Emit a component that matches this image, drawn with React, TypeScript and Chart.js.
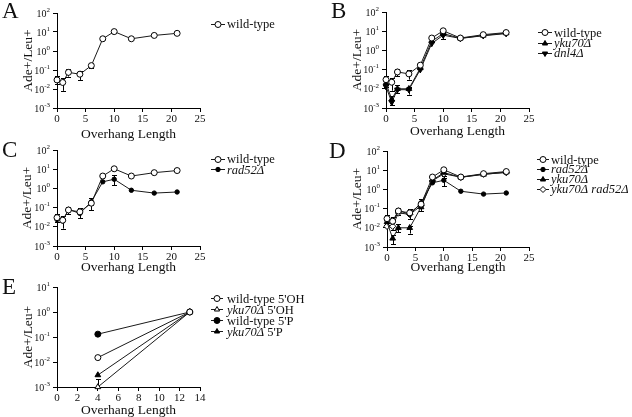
import React, { useEffect, useRef } from "react";
import { Chart, registerables } from "chart.js";
Chart.register(...registerables);

// ---------- data ----------
const overhangLengths = [0, 1, 2, 4, 6, 8, 10, 13, 17, 21];
const wildType = [0.03, 0.022, 0.075, 0.06, 0.17, 4.4, 10.5, 4.4, 6.6, 8.5];
const wildTypeErrLow = [0.018, 0.008, 0.045, 0.03, 0.13, null, null, null, null, null];
const wildTypeErrHigh = [0.048, 0.036, 0.11, 0.09, 0.22, null, null, null, null, null];
const yku70 = [0.02, 0.0028, 0.01, 0.01, 0.12, 3.0, 7.5, 4.3, 6.0, 8.0];
const yku70ErrLow = [0.012, 0.0014, 0.006, 0.005, null, null, 3.8, null, null, null];
const yku70ErrHigh = [0.03, 0.004, 0.015, 0.013, null, null, 9.0, null, null, null];
const dnl4 = [0.013, 0.002, 0.009, 0.009, 0.1, 2.3, 6.2, 4.2, 5.8, 7.5];
const rad52 = [0.024, 0.02, 0.08, 0.05, 0.2, 2.2, 3.0, 0.8, 0.57, 0.65];
const rad52ErrLow = [null, null, null, 0.028, 0.075, null, 1.5, null, null, null];
const rad52ErrHigh = [null, null, null, 0.07, 0.3, null, 5.0, null, null, null];
const yku70rad52 = [0.012, 0.012, 0.06, 0.05, 0.14, 2.8, 6.5, 4.3, 6.2, 7.5];

const panelELengths = [4, 13];
const wildType5OH = [0.015, 1];
const yku70_5OH = [0.001, 1];
const yku70_5OHErrLow = [0.001, null];
const yku70_5OHErrHigh = [0.002, null];
const wildType5P = [0.13, 1];
const yku70_5P = [0.003, 1];

const logTicksMain = [0.001, 0.01, 0.1, 1, 10, 100];
const logTicksE = [0.001, 0.01, 0.1, 1, 10];

// ---------- styling ----------
const FONT = '"Liberation Serif", "Times New Roman", serif';
const INK = "#111";
const LINE = "#1a1a1a";

type Marker = { style: "circle" | "triangle" | "rectRot"; r: number; fill: string; rot: number };
const openCircle: Marker = { style: "circle", r: 3, fill: "#fff", rot: 0 };
const filledCircle: Marker = { style: "circle", r: 3, fill: "#000", rot: 0 };
const smallDot: Marker = { style: "circle", r: 2.2, fill: "#000", rot: 0 };
const triUp: Marker = { style: "triangle", r: 3.3, fill: "#000", rot: 0 };
const triDown: Marker = { style: "triangle", r: 3.3, fill: "#000", rot: 180 };
const openTri: Marker = { style: "triangle", r: 3.3, fill: "#fff", rot: 0 };
const openDiamond: Marker = { style: "rectRot", r: 3.2, fill: "#fff", rot: 0 };

type Seg = { t: string; i?: boolean };

function series(parts: Seg[], xs: number[], ys: number[], m: Marker, lo?: (number | null)[], hi?: (number | null)[]) {
  return {
    label: parts.map((p) => p.t).join(""),
    legendParts: parts,
    marker: m,
    errLow: lo,
    errHigh: hi,
    data: xs.map((x, i) => ({ x, y: ys[i] })),
    borderColor: LINE,
    borderWidth: 1,
    pointStyle: m.style,
    pointRadius: m.r,
    pointRotation: m.rot,
    pointBackgroundColor: m.fill,
    pointBorderColor: "#000",
    pointBorderWidth: 1,
    tension: 0,
    clip: false,
    fill: false,
  };
}

function drawMarker(ctx: CanvasRenderingContext2D, m: Marker, x: number, y: number) {
  ctx.save();
  ctx.fillStyle = m.fill;
  ctx.strokeStyle = "#000";
  ctx.lineWidth = 1;
  ctx.beginPath();
  if (m.style === "circle") {
    ctx.arc(x, y, m.r, 0, Math.PI * 2);
  } else if (m.style === "triangle") {
    let rad = (m.rot * Math.PI) / 180;
    for (let k = 0; k < 3; k++) {
      const px = x + Math.sin(rad) * m.r;
      const py = y - Math.cos(rad) * m.r;
      if (k === 0) ctx.moveTo(px, py);
      else ctx.lineTo(px, py);
      rad += (2 * Math.PI) / 3;
    }
    ctx.closePath();
  } else {
    ctx.moveTo(x, y - m.r);
    ctx.lineTo(x + m.r, y);
    ctx.lineTo(x, y + m.r);
    ctx.lineTo(x - m.r, y);
    ctx.closePath();
  }
  ctx.fill();
  ctx.stroke();
  ctx.restore();
}

type PanelCfg = {
  letter: string;
  letterX: number;
  letterY: number;
  left: number;
  top: number;
  W: number;
  H: number;
  area: { l: number; r: number; t: number; b: number };
  xMax: number;
  xStep: number;
  yMin: number;
  yMax: number;
  yTicks: number[];
  yTitlePad: number;
  legend: { x: number; y: number; dy: number; len: number; tx: number };
  datasets: any[];
};

const panels: PanelCfg[] = [
  {
    letter: "A", letterX: 2, letterY: 18, left: 0, top: 0, W: 316, H: 143,
    area: { l: 57, r: 200, t: 13, b: 108 }, xMax: 25, xStep: 5, yMin: 0.001, yMax: 100, yTicks: logTicksMain,
    yTitlePad: 20, legend: { x: 211, y: 23.7, dy: 10.3, len: 14, tx: 227 },
    datasets: [series([{ t: "wild-type" }], overhangLengths, wildType, openCircle, wildTypeErrLow, wildTypeErrHigh)],
  },
  {
    letter: "B", letterX: 15, letterY: 18, left: 316, top: 0, W: 316, H: 140,
    area: { l: 70, r: 213, t: 12, b: 108 }, xMax: 25, xStep: 5, yMin: 0.001, yMax: 100, yTicks: logTicksMain,
    yTitlePad: 33.5, legend: { x: 222, y: 32.3, dy: 10.3, len: 14, tx: 238 },
    datasets: [
      series([{ t: "wild-type" }], overhangLengths, wildType, openCircle, wildTypeErrLow, wildTypeErrHigh),
      series([{ t: "yku70Δ", i: true }], overhangLengths, yku70, triUp, yku70ErrLow, yku70ErrHigh),
      series([{ t: "dnl4Δ", i: true }], overhangLengths, dnl4, triDown),
    ],
  },
  {
    letter: "C", letterX: 2, letterY: 17, left: 0, top: 140, W: 316, H: 136,
    area: { l: 57, r: 200, t: 10, b: 106 }, xMax: 25, xStep: 5, yMin: 0.001, yMax: 100, yTicks: logTicksMain,
    yTitlePad: 19, legend: { x: 211, y: 19, dy: 10.3, len: 14, tx: 227 },
    datasets: [
      series([{ t: "wild-type" }], overhangLengths, wildType, openCircle, wildTypeErrLow, wildTypeErrHigh),
      series([{ t: "rad52Δ", i: true }], overhangLengths, rad52, smallDot, rad52ErrLow, rad52ErrHigh),
    ],
  },
  {
    letter: "D", letterX: 13, letterY: 18, left: 316, top: 140, W: 316, H: 136,
    area: { l: 71, r: 213, t: 11, b: 107 }, xMax: 25, xStep: 5, yMin: 0.001, yMax: 100, yTicks: logTicksMain,
    yTitlePad: 33.5, legend: { x: 221, y: 19.3, dy: 9.9, len: 12, tx: 235 },
    datasets: [
      series([{ t: "wild-type" }], overhangLengths, wildType, openCircle, wildTypeErrLow, wildTypeErrHigh),
      series([{ t: "rad52Δ", i: true }], overhangLengths, rad52, smallDot, rad52ErrLow, rad52ErrHigh),
      series([{ t: "yku70Δ", i: true }], overhangLengths, yku70, triUp, yku70ErrLow, yku70ErrHigh),
      series([{ t: "yku70Δ rad52Δ", i: true }], overhangLengths, yku70rad52, openDiamond),
    ],
  },
  {
    letter: "E", letterX: 2, letterY: 22, left: 0, top: 272, W: 316, H: 147,
    area: { l: 57, r: 200, t: 15, b: 115 }, xMax: 14, xStep: 2, yMin: 0.001, yMax: 10, yTicks: logTicksE,
    yTitlePad: 20, legend: { x: 211, y: 26.3, dy: 11, len: 12, tx: 227 },
    datasets: [
      series([{ t: "wild-type 5'OH" }], panelELengths, wildType5OH, openCircle),
      series([{ t: "yku70Δ", i: true }, { t: " 5'OH" }], panelELengths, yku70_5OH, openTri, yku70_5OHErrLow, yku70_5OHErrHigh),
      series([{ t: "wild-type 5'P" }], panelELengths, wildType5P, filledCircle),
      series([{ t: "yku70Δ", i: true }, { t: " 5'P" }], panelELengths, yku70_5P, triUp),
    ],
  },
];

function makePlugin(cfg: PanelCfg) {
  return {
    id: "panelDecor" + cfg.letter,
    beforeDatasetsDraw(chart: any) {
      const ctx: CanvasRenderingContext2D = chart.ctx;
      const xs = chart.scales.x;
      const ys = chart.scales.y;
      ctx.save();
      ctx.strokeStyle = "#000";
      ctx.lineWidth = 1;
      chart.data.datasets.forEach((ds: any) => {
        if (!ds.errLow) return;
        ds.data.forEach((pt: any, i: number) => {
          const lo = ds.errLow[i];
          const hi = ds.errHigh[i];
          if (lo == null || hi == null) return;
          const px = Math.round(xs.getPixelForValue(pt.x)) + 0.5;
          const y1 = ys.getPixelForValue(lo);
          const y2 = ys.getPixelForValue(hi);
          ctx.beginPath();
          ctx.moveTo(px, y1);
          ctx.lineTo(px, y2);
          ctx.moveTo(px - 2.5, Math.round(y1) + 0.5);
          ctx.lineTo(px + 2.5, Math.round(y1) + 0.5);
          ctx.moveTo(px - 2.5, Math.round(y2) + 0.5);
          ctx.lineTo(px + 2.5, Math.round(y2) + 0.5);
          ctx.stroke();
        });
      });
      ctx.restore();
    },
    afterDraw(chart: any) {
      const ctx: CanvasRenderingContext2D = chart.ctx;
      const ys = chart.scales.y;
      ctx.save();
      // y tick labels: 10^n
      ctx.fillStyle = INK;
      ctx.textAlign = "left";
      ctx.textBaseline = "middle";
      const right = chart.chartArea.left - 7;
      for (const t of ys.ticks) {
        const py = ys.getPixelForValue(t.value);
        const exp = String(Math.round(Math.log10(t.value)));
        ctx.font = `7px ${FONT}`;
        const ew = ctx.measureText(exp).width;
        ctx.font = `10px ${FONT}`;
        const bw = ctx.measureText("10").width;
        ctx.fillText("10", right - ew - bw, py + 1);
        ctx.font = `7px ${FONT}`;
        ctx.fillText(exp, right - ew, py - 3);
      }
      // panel letter
      ctx.font = `23px ${FONT}`;
      ctx.textBaseline = "alphabetic";
      ctx.fillText(cfg.letter, cfg.letterX, cfg.letterY);
      // legend
      const L = cfg.legend;
      chart.data.datasets.forEach((ds: any, i: number) => {
        const yy = L.y + i * L.dy;
        ctx.strokeStyle = LINE;
        ctx.lineWidth = 1;
        ctx.beginPath();
        ctx.moveTo(L.x, Math.round(yy) + 0.5);
        ctx.lineTo(L.x + L.len, Math.round(yy) + 0.5);
        ctx.stroke();
        drawMarker(ctx, { ...ds.marker, r: Math.min(ds.marker.r, 3) }, L.x + L.len / 2, Math.round(yy) + 0.5);
        let tx = L.tx;
        ctx.fillStyle = INK;
        ctx.textBaseline = "middle";
        for (const seg of ds.legendParts as Seg[]) {
          ctx.font = `${seg.i ? "italic " : ""}12.5px ${FONT}`;
          ctx.fillText(seg.t, tx, yy + 1);
          tx += ctx.measureText(seg.t).width;
        }
      });
      ctx.restore();
    },
  };
}

function buildConfig(cfg: PanelCfg): any {
  const a = cfg.area;
  return {
    type: "line",
    data: { datasets: cfg.datasets },
    options: {
      responsive: false,
      animation: false,
      devicePixelRatio: 1,
      layout: { padding: { top: a.t, right: cfg.W - a.r, left: 0, bottom: 0 } },
      plugins: { legend: { display: false }, tooltip: { enabled: false } },
      scales: {
        x: {
          type: "linear",
          min: 0,
          max: cfg.xMax,
          ticks: { stepSize: cfg.xStep, font: { family: FONT, size: 11 }, color: INK, padding: 1, maxRotation: 0, autoSkip: false },
          grid: { drawOnChartArea: false, drawTicks: true, tickLength: 4, color: "#000", lineWidth: 1 },
          border: { display: true, color: "#000", width: 1 },
          title: { display: true, text: "Overhang Length", font: { family: FONT, size: 13.5 }, color: INK, padding: { top: 0, bottom: 0 } },
          afterFit: (s: any) => {
            s.height = cfg.H - a.b;
          },
        },
        y: {
          type: "logarithmic",
          min: cfg.yMin,
          max: cfg.yMax,
          ticks: { display: false },
          afterBuildTicks: (s: any) => {
            s.ticks = cfg.yTicks.map((v) => ({ value: v }));
          },
          grid: { drawOnChartArea: false, drawTicks: true, tickLength: 4, color: "#000", lineWidth: 1 },
          border: { display: true, color: "#000", width: 1 },
          title: { display: true, text: "Ade+/Leu+", font: { family: FONT, size: 13.5 }, color: INK, padding: { top: cfg.yTitlePad, bottom: 0 } },
          afterFit: (s: any) => {
            s.width = a.l;
          },
        },
      },
    },
    plugins: [makePlugin(cfg)],
  };
}

function Panel({ cfg }: { cfg: PanelCfg }) {
  const ref = useRef<HTMLCanvasElement>(null);
  useEffect(() => {
    const chart = new Chart(ref.current as HTMLCanvasElement, buildConfig(cfg));
    return () => chart.destroy();
  }, [cfg]);
  return (
    <canvas
      ref={ref}
      width={cfg.W}
      height={cfg.H}
      style={{ position: "absolute", left: cfg.left, top: cfg.top, width: cfg.W, height: cfg.H }}
    />
  );
}

export default function App() {
  return (
    <div style={{ position: "fixed", left: 0, top: 0, width: 632, height: 417, background: "#fff", overflow: "hidden" }}>
      {panels.map((p) => (
        <Panel key={p.letter} cfg={p} />
      ))}
    </div>
  );
}
